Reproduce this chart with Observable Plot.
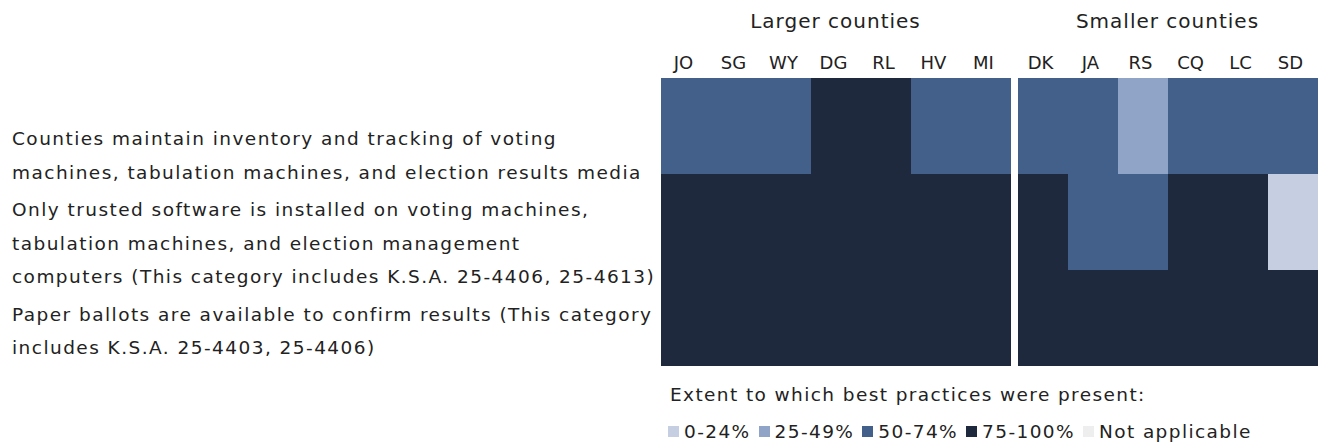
<!DOCTYPE html>
<html><head><meta charset="utf-8">
<script src="https://cdn.jsdelivr.net/npm/d3@7"></script>
<script src="https://cdn.jsdelivr.net/npm/@observablehq/plot@0.6"></script>
<style>
html,body{margin:0;padding:0;background:#fff;}
#root{position:relative;width:1319px;height:444px;overflow:hidden;font-family:"DejaVu Sans",sans-serif;color:#222;}
#labels{position:absolute;left:12px;top:122px;font-size:18.5px;letter-spacing:1.45px;line-height:33.5px;white-space:nowrap;}
#labels div{margin-bottom:4px;}
.grp{position:absolute;top:9px;font-size:20px;letter-spacing:1px;text-align:center;white-space:nowrap;}
.pnl{position:absolute;top:0;}
#legtitle{position:absolute;left:670px;top:384px;font-size:18.5px;letter-spacing:1.4px;white-space:nowrap;}
#legend{position:absolute;left:668px;top:415px;}
.lg-swatches{font-family:"DejaVu Sans",sans-serif !important;font-size:18.5px !important;letter-spacing:1.4px;color:#222;margin:0 !important;}
.lg-swatch{margin-right:8px !important;}
.lg-swatch svg{margin-right:5px !important;}
</style></head><body><div id="root"></div>
<script>
const largerCounties = ["JO","SG","WY","DG","RL","HV","MI"];
const smallerCounties = ["DK","JA","RS","CQ","LC","SD"];
const practices = [
  "Counties maintain inventory and tracking of voting\nmachines, tabulation machines, and election results media",
  "Only trusted software is installed on voting machines,\ntabulation machines, and election management\ncomputers (This category includes K.S.A. 25-4406, 25-4613)",
  "Paper ballots are available to confirm results (This category\nincludes K.S.A. 25-4403, 25-4406)"
];
const levels = ["0-24%","25-49%","50-74%","75-100%","Not applicable"];
const levelColors = ["#c5cfe1","#8fa4c6","#43608b","#1f293e","#eeeeee"];
const groupTitles = ["Larger counties","Smaller counties"];
const legendTitle = "Extent to which best practices were present:";
// values per practice row
const largerValues = [
  ["50-74%","50-74%","50-74%","75-100%","75-100%","50-74%","50-74%"],
  ["75-100%","75-100%","75-100%","75-100%","75-100%","75-100%","75-100%"],
  ["75-100%","75-100%","75-100%","75-100%","75-100%","75-100%","75-100%"]
];
const smallerValues = [
  ["50-74%","50-74%","25-49%","50-74%","50-74%","50-74%"],
  ["75-100%","50-74%","50-74%","75-100%","75-100%","0-24%"],
  ["75-100%","75-100%","75-100%","75-100%","75-100%","75-100%"]
];

const root = document.getElementById("root");
const FONT = "'DejaVu Sans', sans-serif";

// row labels
const lab = document.createElement("div");
lab.id = "labels";
practices.forEach(p => {
  const d = document.createElement("div");
  p.split("\n").forEach((line, i) => {
    if (i) d.appendChild(document.createElement("br"));
    d.appendChild(document.createTextNode(line));
  });
  lab.appendChild(d);
});
root.appendChild(lab);

function panel(counties, values, width) {
  const data = practices.flatMap((p, i) => counties.map((c, j) => ({practice: p, county: c, level: values[i][j]})));
  return Plot.plot({
    width, height: 366,
    marginTop: 78, marginBottom: 0, marginLeft: 0, marginRight: 0,
    style: {fontFamily: FONT, fontSize: "18px", color: "#222", background: "transparent", overflow: "visible"},
    x: {domain: counties, axis: null, padding: 0},
    y: {domain: practices, axis: null, padding: 0},
    color: {domain: levels, range: levelColors},
    marks: [
      Plot.axisX({anchor: "top", tickSize: 0, tickPadding: 10, label: null, dx: -3}),
      Plot.cell(data, {x: "county", y: "practice", fill: "level", inset: 0, shapeRendering: "crispEdges"})
    ]
  });
}

const panels = [
  {counties: largerCounties, values: largerValues, left: 660, width: 351},
  {counties: smallerCounties, values: smallerValues, left: 1016, width: 303}
];
panels.forEach((p, k) => {
  const wrap = document.createElement("div");
  wrap.className = "pnl";
  wrap.style.left = p.left + "px";
  wrap.appendChild(panel(p.counties, p.values, p.width));
  root.appendChild(wrap);
  const t = document.createElement("div");
  t.className = "grp";
  t.style.left = p.left + "px";
  t.style.width = p.width + "px";
  t.textContent = groupTitles[k];
  root.appendChild(t);
});

const lt = document.createElement("div");
lt.id = "legtitle";
lt.textContent = legendTitle;
root.appendChild(lt);

const lg = document.createElement("div");
lg.id = "legend";
lg.appendChild(Plot.legend({
  color: {type: "ordinal", domain: levels, range: levelColors},
  swatchSize: 11,
  className: "lg"
}));
root.appendChild(lg);
</script>
</body></html>
